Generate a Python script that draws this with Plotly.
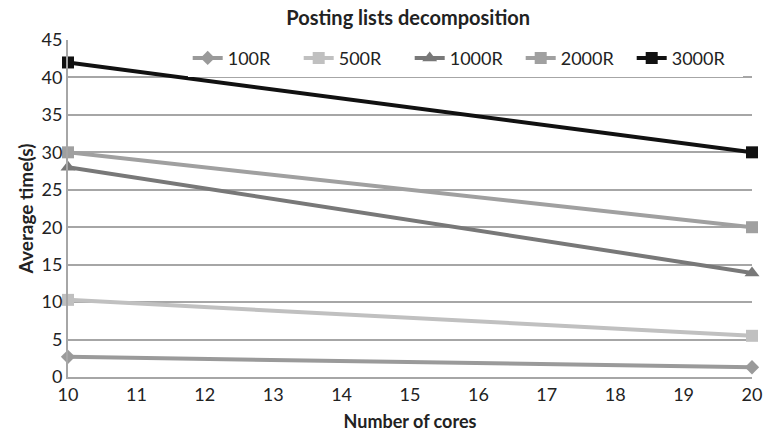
import plotly.graph_objects as go

cores = [10, 20]
series_names = ["100R", "500R", "1000R", "2000R", "3000R"]
v100 = [2.7, 1.3]
v500 = [10.3, 5.5]
v1000 = [28, 13.9]
v2000 = [30, 20]
v3000 = [42, 30]

values = [v100, v500, v1000, v2000, v3000]
colors = ["#9a9a9a", "#c0c0c0", "#787878", "#a0a0a0", "#111111"]
symbols = ["diamond", "square", "triangle-up", "square", "square"]
msizes = [11, 12, 13, 12, 12]

FONT = "Lato, 'Open Sans', sans-serif"

fig = go.Figure()
for name, vals, c, s, ms in zip(series_names, values, colors, symbols, msizes):
    fig.add_trace(go.Scatter(
        x=cores, y=vals, name=name, mode="lines+markers",
        line=dict(color=c, width=4),
        marker=dict(symbol=s, size=ms, color=c),
        cliponaxis=False,
    ))

fig.update_layout(
    width=763, height=432,
    margin=dict(l=68, r=11, t=40, b=55),
    plot_bgcolor="white", paper_bgcolor="white",
    font=dict(family=FONT, size=18, color="#222222"),
    title=dict(text="<b>Posting lists decomposition</b>", x=0.535, xanchor="center",
               y=0.958, yanchor="middle", font=dict(size=20, color="#222222")),
    showlegend=True,
    legend=dict(orientation="h", x=0.175, xanchor="left", y=0.946, yanchor="middle",
                bgcolor="white", font=dict(size=18, color="#222222"),
                itemwidth=30, tracegroupgap=0, entrywidth=66, entrywidthmode="pixels"),
    xaxis=dict(range=[10, 20], tickmode="array", tickvals=list(range(10, 21)),
               showgrid=False, showline=True, linecolor="#a6a6a6", linewidth=2,
               zeroline=False, ticks="", automargin=False,
               title=dict(text="<b>Number of cores</b>", font=dict(size=18), standoff=12),
               tickfont=dict(size=18)),
    yaxis=dict(range=[0, 45], tickmode="array", tickvals=list(range(0, 46, 5)),
               showgrid=True, gridcolor="#a6a6a6", gridwidth=2,
               showline=True, linecolor="#a6a6a6", linewidth=2,
               zeroline=False, ticks="", automargin=False,
               title=dict(text="<b>Average time(s)</b>", font=dict(size=19), standoff=3),
               tickfont=dict(size=18)),
)

fig.write_html("out.html")
